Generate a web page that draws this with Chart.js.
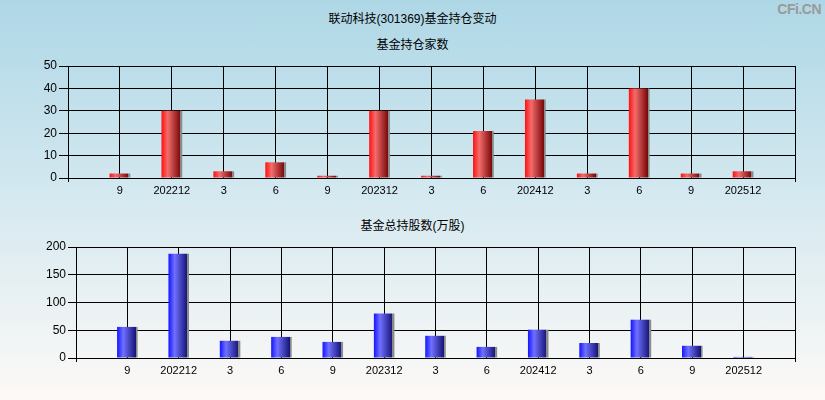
<!DOCTYPE html>
<html>
<head>
<meta charset="utf-8">
<script src="https://cdn.jsdelivr.net/npm/chart.js@4.4.1/dist/chart.umd.min.js"></script>
<style>
  html, body { margin: 0; padding: 0; }
  body {
    width: 825px; height: 400px; overflow: hidden; position: relative;
    background: linear-gradient(to bottom, #aed7e6 0%, #d5e9f0 50%, #fdf9f7 100%);
    font-family: "Liberation Sans", Arial, "Noto Sans CJK SC", sans-serif;
  }
  .title { position: absolute; left: 0; width: 825px; text-align: center;
    font: 12px "Liberation Sans", Arial, "Noto Sans CJK SC", sans-serif; color: #000; }
  .mark { position: absolute; right: 4px; top: 1px; font: bold 14px "Liberation Sans", Arial, sans-serif;
    color: #9a9a9a; letter-spacing: -0.5px; }
  .box { position: absolute; left: 0; width: 825px; }
</style>
</head>
<body>
<div class="title" style="top:9px">联动科技(301369)基金持仓变动</div>
<div class="mark">CFi.CN</div>
<div class="title" style="top:35px">基金持仓家数</div>
<div class="box" style="top:56px;height:144px"><canvas id="chart-count"></canvas></div>
<div class="title" style="top:216px">基金总持股数(万股)</div>
<div class="box" style="top:230px;height:150px"><canvas id="chart-shares"></canvas></div>
<script>
// quarter labels, blank slots at both ends
const periods = ['', '9', '202212', '3', '6', '9', '202312', '3', '6', '202412', '3', '6', '9', '202512', ''];
const fundCount = [null, 2, 30, 3, 7, 1, 30, 1, 21, 35, 2, 40, 2, 3, null];
const fundShares = [null, 56, 188, 31, 38, 29, 80, 40, 20, 51, 27, 69, 22, 2, null];
const countTicks = [0, 10, 20, 30, 40, 50];
const sharesTicks = [0, 50, 100, 150, 200];

// horizontal shaded fill per bar, like the original's cylinder look
const shadePlugin = {
    id: 'shade',
    beforeDatasetsDraw(chart) {
        const stops = chart.options.plugins.shade.stops;
        const ctx = chart.ctx;
        chart.getSortedVisibleDatasetMetas().forEach(meta => {
            meta.data.forEach(el => {
                if (!el.width) return;
                const x0 = el.x - el.width / 2;
                const g = ctx.createLinearGradient(x0, 0, x0 + el.width, 0);
                stops.forEach(s => g.addColorStop(s[0], s[1]));
                el.options = Object.assign({}, el.options, { backgroundColor: g });
            });
        });
    }
};

function makeChart(canvasId, values, ticks, stops, axisWidth, tickLen, padTop) {
    const ctx = document.getElementById(canvasId);
    return new Chart(ctx.getContext('2d'), {
        type: 'bar',
        data: {
            labels: periods,
            datasets: [{
                data: values,
                backgroundColor: stops[0][1],
                borderWidth: 0,
                categoryPercentage: 1,
                barPercentage: 0.4,
            }]
        },
        plugins: [shadePlugin],
        options: {
            responsive: true,
            maintainAspectRatio: false,
            animation: false,
            layout: { padding: { top: padTop, right: 30, left: 0, bottom: 0 } },
            plugins: {
                legend: { display: false },
                tooltip: { enabled: false },
                shade: { stops: stops }
            },
            scales: {
                x: {
                    type: 'category',
                    offset: false,
                    grid: {
                        offset: false,
                        color: '#000',
                        lineWidth: 1,
                        drawTicks: true,
                        tickLength: 4,
                        tickColor: c => (c.index === 0 || c.index === periods.length - 1) ? '#000' : 'rgba(0,0,0,0)'
                    },
                    border: { color: '#000' },
                    ticks: {
                        autoSkip: false, maxRotation: 0, padding: 2,
                        color: '#000',
                        font: { size: 11, family: '"Liberation Sans", Arial, sans-serif' }
                    },
                    afterFit: s => { s.height = 22; }
                },
                y: {
                    min: ticks[0],
                    max: ticks[ticks.length - 1],
                    afterBuildTicks: s => { s.ticks = ticks.map(v => ({ value: v })); },
                    grid: { color: '#000', lineWidth: 1, tickLength: tickLen, tickColor: '#000' },
                    border: { color: '#000' },
                    ticks: {
                        padding: 2, color: '#000',
                        font: { size: 12, family: '"Liberation Sans", Arial, sans-serif' }
                    },
                    afterFit: s => { s.width = axisWidth; }
                }
            }
        }
    });
}

makeChart('chart-count', fundCount, countTicks,
    [[0, '#ff1010'], [0.3, '#f46c6c'], [0.9, '#7a0a0a'], [0.9, '#8a8a8a'], [1, '#8a8a8a']], 68, 9, 10);
makeChart('chart-shares', fundShares, sharesTicks,
    [[0, '#1414ff'], [0.3, '#7070ff'], [0.9, '#16167a'], [0.9, '#8a8a8a'], [1, '#8a8a8a']], 76, 8, 17);
</script>
</body>
</html>
